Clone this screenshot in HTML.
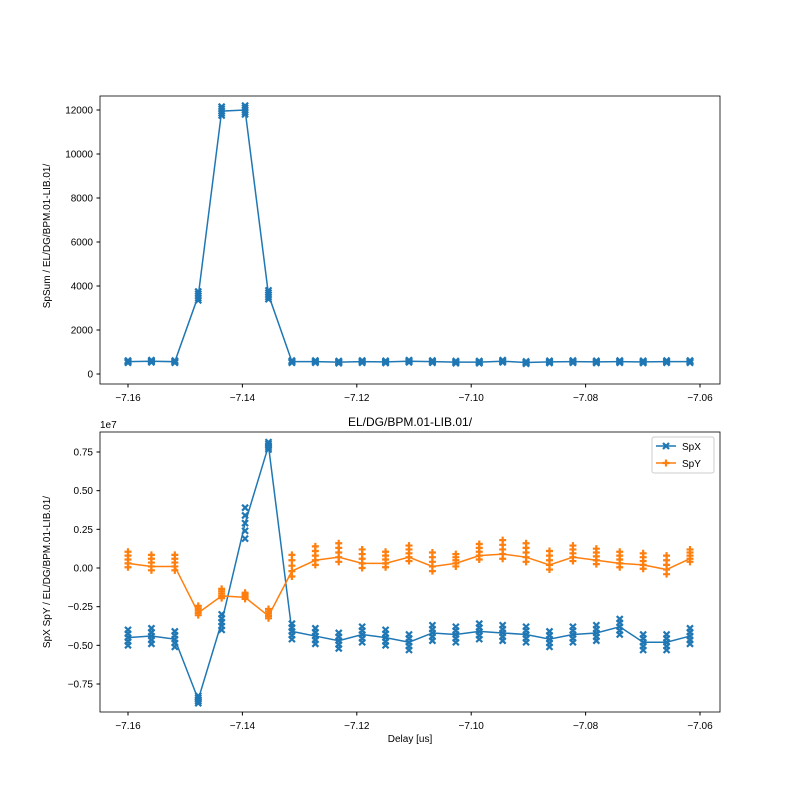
<!DOCTYPE html>
<html><head><meta charset="utf-8"><style>
body{margin:0;background:#fff}
svg{font-family:"Liberation Sans","DejaVu Sans",sans-serif}
</style></head><body>
<svg id="s" width="800" height="800" xmlns="http://www.w3.org/2000/svg">
<rect width="800" height="800" fill="#fff"/>
<g id="g"></g>
</svg>
<script>
(function(){
var g=document.getElementById('g');var h='';
function X(v){return 128+(v+7.16)*5720;}
var xs=[];for(var i=0;i<25;i++)xs.push(-7.16+i*562/24/5720);
function Yt(v){return 374-v*0.022;}
function Yb(v){return 568-v*154.67;}
var sums=[560,580,560,3550,11950,12000,3600,560,560,540,560,550,580,560,540,540,580,520,550,560,550,560,550,560,560];
var spx=[-0.45,-0.44,-0.46,-0.85,-0.35,0.29,0.79,-0.41,-0.44,-0.47,-0.43,-0.45,-0.48,-0.42,-0.43,-0.41,-0.42,-0.43,-0.46,-0.43,-0.42,-0.38,-0.48,-0.48,-0.44];
var spy=[0.03,0.01,0.01,-0.29,-0.18,-0.19,-0.31,-0.02,0.05,0.07,0.03,0.03,0.07,0.01,0.03,0.08,0.09,0.07,0.02,0.07,0.05,0.03,0.02,-0.01,0.06];
var sy=[0.05,0.05,0.05,0.03,0.03,0.02,0.03,0.07,0.06,0.06,0.06,0.05,0.05,0.06,0.04,0.05,0.06,0.06,0.06,0.05,0.05,0.05,0.05,0.06,0.04];
function xm(x,y,c){return '<path d="M'+(x-3)+','+(y-3)+'L'+(x+3)+','+(y+3)+'M'+(x-3)+','+(y+3)+'L'+(x+3)+','+(y-3)+'" stroke="'+c+'" stroke-width="2.2"/>';}
function pm(x,y,c){return '<path d="M'+(x-3.5)+','+y+'L'+(x+3.5)+','+y+'M'+x+','+(y-3.5)+'L'+x+','+(y+3.5)+'" stroke="'+c+'" stroke-width="2.2"/>';}
function ax(x0,y0,x1,y1){return '<rect x="'+x0+'" y="'+y0+'" width="'+(x1-x0)+'" height="'+(y1-y0)+'" fill="none" stroke="#000" stroke-width="0.8"/>';}
h+=ax(100,96,720,384);
var p='';xs.forEach(function(x,i){p+=(i?'L':'M')+X(x)+','+Yt(sums[i]);});
h+='<path d="'+p+'" fill="none" stroke="#1f77b4" stroke-width="1.5"/>';
xs.forEach(function(x,i){var sp=sums[i]>3000?200:50;for(var k=-2;k<=2;k++)h+=xm(X(x),Yt(sums[i]+k*sp/2),'#1f77b4');});
[0,2000,4000,6000,8000,10000,12000].forEach(function(v){var y=Yt(v);h+='<line x1="96.5" x2="100" y1="'+y+'" y2="'+y+'" stroke="#000"/><text x="93" y="'+(y+3.5)+'" font-size="10" text-anchor="end">'+v+'</text>';});
var xt=[-7.16,-7.14,-7.12,-7.10,-7.08,-7.06];
function xticks(yb){xt.forEach(function(v){var x=X(v);h+='<line x1="'+x+'" x2="'+x+'" y1="'+yb+'" y2="'+(yb+3.5)+'" stroke="#000"/><text x="'+x+'" y="'+(yb+17)+'" font-size="10" text-anchor="middle">\u2212'+(-v).toFixed(2)+'</text>';});}
xticks(384);
h+='<text transform="translate(50,236) rotate(-90)" font-size="10" text-anchor="middle">SpSum / EL/DG/BPM.01-LIB.01/</text>';
h+=ax(100,432,720,712);
p='';xs.forEach(function(x,i){p+=(i?'L':'M')+X(x)+','+Yb(spx[i]);});
h+='<path d="'+p+'" fill="none" stroke="#1f77b4" stroke-width="1.5"/>';
p='';xs.forEach(function(x,i){p+=(i?'L':'M')+X(x)+','+Yb(spy[i]);});
h+='<path d="'+p+'" fill="none" stroke="#ff7f0e" stroke-width="1.5"/>';
xs.forEach(function(x,i){var s=i==5?0.05:(i==6||i==3?0.012:0.025);for(var k=-2;k<=2;k++)h+=xm(X(x),Yb(spx[i]+k*s),'#1f77b4');});
xs.forEach(function(x,i){for(var k=-1;k<=3;k++)h+=pm(X(x),Yb(spy[i]+k*sy[i]/2),'#ff7f0e');});
[0.75,0.5,0.25,0,-0.25,-0.5,-0.75].forEach(function(v){var y=Yb(v);var t=(v<0?'\u2212':'')+Math.abs(v).toFixed(2);h+='<line x1="96.5" x2="100" y1="'+y+'" y2="'+y+'" stroke="#000"/><text x="93" y="'+(y+3.5)+'" font-size="10" text-anchor="end">'+t+'</text>';});
xticks(712);
h+='<text x="100" y="428" font-size="10">1e7</text>';
h+='<text x="410" y="426" font-size="12" text-anchor="middle">EL/DG/BPM.01-LIB.01/</text>';
h+='<text x="410" y="742" font-size="10" text-anchor="middle">Delay [us]</text>';
h+='<text transform="translate(50,572) rotate(-90)" font-size="10" text-anchor="middle">SpX SpY / EL/DG/BPM.01-LIB.01/</text>';
h+='<rect x="652" y="437" width="62" height="36" rx="2" fill="#fff" stroke="#ccc"/>';
h+='<line x1="656" x2="676" y1="446" y2="446" stroke="#1f77b4" stroke-width="1.5"/>'+xm(666,446,'#1f77b4')+'<text x="682" y="450" font-size="10">SpX</text>';
h+='<line x1="656" x2="676" y1="463" y2="463" stroke="#ff7f0e" stroke-width="1.5"/>'+pm(666,463,'#ff7f0e')+'<text x="682" y="467" font-size="10">SpY</text>';
g.innerHTML=h;
})();
</script>
</body></html>
